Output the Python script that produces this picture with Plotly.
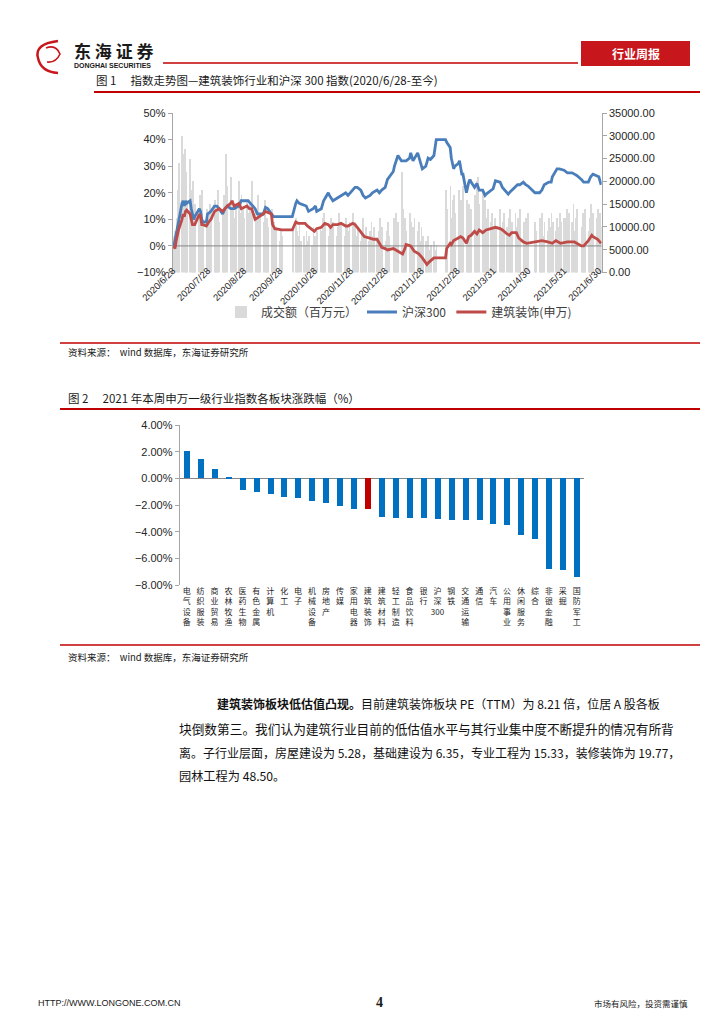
import plotly.graph_objects as go
import pandas as pd

W, H = 724, 1024


def px(x):
    return x / W


def py(y):
    return 1 - y / H


# ---------------- Chart 1 data ----------------
hs300_dates = [
    "2020-06-29", "2020-06-30", "2020-07-01", "2020-07-03", "2020-07-06", "2020-07-07", "2020-07-08",
    "2020-07-09", "2020-07-10", "2020-07-13", "2020-07-14", "2020-07-16", "2020-07-17", "2020-07-20",
    "2020-07-21", "2020-07-22", "2020-07-23", "2020-07-24", "2020-07-27", "2020-07-28", "2020-07-31",
    "2020-08-03", "2020-08-05", "2020-08-07", "2020-08-10", "2020-08-12", "2020-08-14", "2020-08-17",
    "2020-08-20", "2020-08-24", "2020-08-26", "2020-08-28", "2020-09-01", "2020-09-03", "2020-09-07",
    "2020-09-09", "2020-09-11", "2020-09-14", "2020-09-16", "2020-09-18", "2020-09-21", "2020-09-23",
    "2020-09-25", "2020-09-30", "2020-10-09", "2020-10-12", "2020-10-13", "2020-10-15", "2020-10-19",
    "2020-10-21", "2020-10-23", "2020-10-27", "2020-10-29", "2020-10-30", "2020-11-03", "2020-11-05",
    "2020-11-09", "2020-11-10", "2020-11-13", "2020-11-17", "2020-11-20", "2020-11-24", "2020-11-26",
    "2020-11-30", "2020-12-02", "2020-12-04", "2020-12-07", "2020-12-09", "2020-12-11", "2020-12-15",
    "2020-12-17", "2020-12-21", "2020-12-23", "2020-12-25", "2020-12-28", "2020-12-30", "2021-01-04",
    "2021-01-05", "2021-01-07", "2021-01-08", "2021-01-11", "2021-01-13", "2021-01-15", "2021-01-18",
    "2021-01-19", "2021-01-21", "2021-01-25", "2021-01-27", "2021-01-29", "2021-02-01", "2021-02-03",
    "2021-02-05", "2021-02-08", "2021-02-10", "2021-02-18", "2021-02-19", "2021-02-22", "2021-02-23",
    "2021-02-25", "2021-02-26", "2021-03-01", "2021-03-02", "2021-03-04", "2021-03-05", "2021-03-08",
    "2021-03-10", "2021-03-11", "2021-03-12", "2021-03-15", "2021-03-17", "2021-03-19", "2021-03-22",
    "2021-03-24", "2021-03-25", "2021-03-29", "2021-03-31", "2021-04-02", "2021-04-06", "2021-04-08",
    "2021-04-12", "2021-04-13", "2021-04-15", "2021-04-19", "2021-04-21", "2021-04-23", "2021-04-26",
    "2021-04-28", "2021-04-30", "2021-05-06", "2021-05-10", "2021-05-12", "2021-05-14", "2021-05-18",
    "2021-05-20", "2021-05-21", "2021-05-25", "2021-05-27", "2021-05-31", "2021-06-03", "2021-06-07",
    "2021-06-09", "2021-06-11", "2021-06-15", "2021-06-17", "2021-06-21", "2021-06-23", "2021-06-25",
    "2021-06-28", "2021-06-30", "2021-07-02",
]
hs300_pct = [
    0, 2, 5, 9, 16, 17, 15,
    17, 16, 17, 14, 10, 11, 13,
    14, 13, 10, 9, 9, 12, 13,
    15, 15, 14, 12, 14, 15, 14,
    14, 15, 17, 17, 17, 16, 14,
    12, 12, 12, 14.5, 14, 12, 11,
    11, 11, 11, 16, 17, 16, 15.5,
    15, 13, 14, 15, 13, 14, 17,
    20, 19, 17, 18, 19, 20, 19,
    21, 22, 22, 21, 19, 18, 19,
    20, 21, 20, 21, 22, 25, 28,
    30, 33, 34, 32, 32, 32, 33,
    35, 32, 35, 32, 29, 30, 33,
    32.5, 34, 40, 40, 39, 37, 33,
    29, 30, 31, 32, 27, 27, 20,
    24, 25, 24, 22, 23.5, 21, 21,
    19, 19.5, 21, 21.5, 24.5, 24, 22,
    20, 19.5, 20.5, 22, 23, 23, 24,
    23, 22.5, 20, 20, 21, 23, 24,
    24, 26, 29, 29, 28.5, 27.5, 27.5,
    27, 26.5, 25, 24, 24, 26, 27,
    26.5, 26, 23,
]

jz_dates = [
    "2020-06-29", "2020-06-30", "2020-07-01", "2020-07-02", "2020-07-03", "2020-07-06", "2020-07-07",
    "2020-07-08", "2020-07-09", "2020-07-10", "2020-07-13", "2020-07-14", "2020-07-15", "2020-07-17",
    "2020-07-20", "2020-07-21", "2020-07-22", "2020-07-23", "2020-07-24", "2020-07-27", "2020-07-29",
    "2020-07-31", "2020-08-03", "2020-08-05", "2020-08-07", "2020-08-10", "2020-08-12", "2020-08-14",
    "2020-08-17", "2020-08-18", "2020-08-20", "2020-08-24", "2020-08-26", "2020-08-28", "2020-08-31",
    "2020-09-02", "2020-09-04", "2020-09-07", "2020-09-09", "2020-09-11", "2020-09-14", "2020-09-16",
    "2020-09-18", "2020-09-21", "2020-09-22", "2020-09-24", "2020-09-30", "2020-10-09", "2020-10-12",
    "2020-10-14", "2020-10-16", "2020-10-20", "2020-10-22", "2020-10-26", "2020-10-28", "2020-10-30",
    "2020-11-03", "2020-11-06", "2020-11-09", "2020-11-11", "2020-11-13", "2020-11-17", "2020-11-20",
    "2020-11-24", "2020-11-26", "2020-11-30", "2020-12-02", "2020-12-04", "2020-12-07", "2020-12-10",
    "2020-12-14", "2020-12-18", "2020-12-21", "2020-12-23", "2020-12-25", "2020-12-28", "2020-12-30",
    "2021-01-04", "2021-01-06", "2021-01-08", "2021-01-12", "2021-01-14", "2021-01-15", "2021-01-19",
    "2021-01-22", "2021-01-26", "2021-01-28", "2021-01-29", "2021-02-02", "2021-02-04", "2021-02-08",
    "2021-02-18", "2021-02-19", "2021-02-22", "2021-02-23", "2021-02-25", "2021-03-01", "2021-03-03",
    "2021-03-05", "2021-03-08", "2021-03-10", "2021-03-12", "2021-03-15", "2021-03-17", "2021-03-19",
    "2021-03-22", "2021-03-25", "2021-03-29", "2021-03-31", "2021-04-02", "2021-04-06", "2021-04-08",
    "2021-04-12", "2021-04-14", "2021-04-16", "2021-04-20", "2021-04-22", "2021-04-26", "2021-04-29",
    "2021-05-07", "2021-05-12", "2021-05-17", "2021-05-21", "2021-05-24", "2021-05-28", "2021-06-03",
    "2021-06-09", "2021-06-15", "2021-06-17", "2021-06-18", "2021-06-21", "2021-06-24", "2021-06-25",
    "2021-06-29", "2021-07-02",
]
jz_pct = [
    0, -1, 2, 4, 6, 10, 12,
    11, 13, 13.5, 12, 10, 8, 8,
    11, 12, 11, 8, 8, 7.5, 9,
    10, 13, 13.5, 14, 13, 14, 15,
    16, 17, 15, 16, 14, 14.5, 15,
    14, 14, 10, 10.5, 11, 12, 13,
    12.5, 12, 8, 6.5, 6, 6, 9,
    8.5, 8.5, 8.5, 7.5, 6, 5.5, 6.5,
    7, 8.5, 8, 7, 8, 8, 8.5,
    7.5, 7.5, 8.5, 8, 7, 5, 3.5,
    3, 2.5, 2.5, 1, -0.5, -1, -1.5,
    -1, -1.5, -2, -3, -1, 0.5, 0,
    -2, -3, -4, -4.5, -7, -6, -4.5,
    -4.5, -1, 1, 0.5, 2, 3, 3.5,
    3, 1, 3.5, 4, 5.5, 4.5, 6,
    5, 6, 6.5, 7, 7, 6.5, 6,
    4.5, 4, 5, 5, 3, 1.5, 1,
    1.5, 2, 1.5, 1, 2, 1, 1.5,
    1.5, 0, 0, 0.5, 2, 4, 3.5,
    2.5, 1,
]

vol_start, vol_end = "2020-06-29", "2021-07-02"
market_holidays = [
    "2020-10-01", "2020-10-02", "2020-10-05", "2020-10-06", "2020-10-07", "2020-10-08",
    "2021-01-01", "2021-02-11", "2021-02-12", "2021-02-15", "2021-02-16", "2021-02-17",
    "2021-04-05", "2021-05-03", "2021-05-04", "2021-05-05", "2021-06-14",
]
volume = [
    # 2020-06
    8000, 9000,
    # 2020-07
    12000, 18000, 24000, 30000, 26000, 27000, 22000, 16000, 25000, 18000, 20000, 14000,
    15000, 12000, 17000, 13000, 18000, 11000, 14000, 10000, 12000, 15000, 13000,
    # 2020-08
    16000, 12000, 14000, 18000, 11000, 13000, 17000, 15000, 26000, 19000, 21000,
    14000, 16000, 12000, 15000, 20000, 13000, 17000, 14000, 12000, 16000,
    # 2020-09
    13000, 15000, 11000, 20000, 14000, 12000, 17000, 10000, 13000, 11000, 16000,
    9000, 12000, 10000, 14000, 9000, 11000, 8000, 10000, 7000, 9000, 8000,
    # 2020-10
    10000, 12000, 9000, 8000, 11000, 7000, 8000, 6000, 9000, 7000, 8000, 6000,
    10000, 8000, 7000, 9000,
    # 2020-11
    10000, 9000, 12000, 13000, 11000, 8000, 10000, 12000, 9000, 11000, 8000,
    10000, 13000, 9000, 11000, 8000, 12000, 10000, 9000, 11000, 13000,
    # 2020-12
    9000, 11000, 8000, 10000, 7000, 9000, 12000, 8000, 10000, 7000, 9000, 11000,
    8000, 10000, 7000, 9000, 12000, 8000, 10000, 7000, 9000, 11000, 8000,
    # 2021-01
    12000, 10000, 13000, 9000, 11000, 22000, 14000, 10000, 12000, 9000,
    13000, 11000, 8000, 10000, 12000, 9000, 11000, 7000, 10000, 8000,
    # 2021-02
    7000, 6000, 8000, 5000, 6000, 7000, 5000, 6000, 18000, 14000, 19000, 12000,
    16000, 17000, 13000,
    # 2021-03
    18000, 14000, 16000, 12000, 19000, 16000, 13000, 15000, 11000, 14000, 17000, 12000,
    20000, 21000, 15000, 18000, 13000, 16000, 12000, 14000, 11000, 13000, 10000,
    # 2021-04
    12000, 10000, 14000, 9000, 11000, 13000, 10000, 12000, 14000, 9000, 11000,
    13000, 10000, 12000, 8000, 14000, 11000, 9000, 12000, 10000, 13000,
    # 2021-05
    11000, 9000, 12000, 10000, 13000, 8000, 11000, 9000, 12000, 10000, 13000,
    11000, 9000, 12000, 10000, 13000, 11000, 12000,
    # 2021-06
    12000, 14000, 10000, 13000, 11000, 15000, 9000, 12000, 14000, 10000, 13000,
    11000, 14000, 9000, 12000, 15000, 10000, 13000, 12000, 14000, 11000,
    # 2021-07
    13000, 10000,
]
trade_days = [d.strftime("%Y-%m-%d") for d in pd.bdate_range(vol_start, vol_end)
              if d.strftime("%Y-%m-%d") not in market_holidays]
n_vol = min(len(trade_days), len(volume))
trade_days, volume = trade_days[:n_vol], volume[:n_vol]

c1_tickvals = ["2020-06-28", "2020-07-28", "2020-08-28", "2020-09-28", "2020-10-28", "2020-11-28",
               "2020-12-28", "2021-01-28", "2021-02-28", "2021-03-31", "2021-04-30", "2021-05-31",
               "2021-06-30"]
c1_ticktext = ["2020/6/28", "2020/7/28", "2020/8/28", "2020/9/28", "2020/10/28", "2020/11/28",
               "2020/12/28", "2021/1/28", "2021/2/28", "2021/3/31", "2021/4/30", "2021/5/31",
               "2021/6/30"]
c1_xrange = ["2020-06-28", "2021-07-02 12:00"]

# ---------------- Chart 2 data ----------------
industries = ["电气设备", "纺织服装", "商业贸易", "农林牧渔", "医药生物", "有色金属", "计算机", "化工",
              "电子", "机械设备", "房地产", "传媒", "家用电器", "建筑装饰", "建筑材料", "轻工制造",
              "食品饮料", "银行", "沪深300", "钢铁", "交通运输", "通信", "汽车", "公用事业",
              "休闲服务", "综合", "非银金融", "采掘", "国防军工"]
changes = [2.08, 1.45, 0.72, 0.08, -0.85, -1.02, -1.18, -1.43, -1.50, -1.70, -1.85, -2.05,
           -2.27, -2.33, -2.93, -2.94, -2.95, -3.01, -3.06, -3.12, -3.13, -3.14, -3.46, -3.53,
           -4.28, -4.57, -6.80, -6.86, -7.40]
highlight = "建筑装饰"


def stack(label):
    parts, buf = [], ""
    for ch in label:
        if ch.isdigit():
            buf += ch
        else:
            if buf:
                parts.append(buf)
                buf = ""
            parts.append(ch)
    if buf:
        parts.append(buf)
    return "<br>".join(parts)


RED = "#C00000"
AXIS_GRAY = "#A6A6A6"
TXT = "#262626"
NUMFONT = "Liberation Sans"
CJK = "Noto Sans CJK SC"

fig = go.Figure()

# Chart 1 traces
fig.add_trace(go.Bar(x=trade_days, y=volume, name="成交额（百万元）", marker=dict(color="#DADADA", line_width=0),
                     width=0.75 * 86400000, xaxis="x", yaxis="y"))
fig.add_trace(go.Scatter(x=c1_xrange, y=[0, 0], mode="lines", line=dict(color="#868686", width=1),
                         showlegend=False, hoverinfo="skip", xaxis="x", yaxis="y2"))
fig.add_trace(go.Scatter(x=hs300_dates, y=hs300_pct, mode="lines", name="沪深300",
                         line=dict(color="#4A7EBB", width=2.8), xaxis="x", yaxis="y2"))
fig.add_trace(go.Scatter(x=jz_dates, y=jz_pct, mode="lines", name="建筑装饰(申万)",
                         line=dict(color="#BE4B48", width=2.8), xaxis="x", yaxis="y2"))

# Chart 2 trace
fig.add_trace(go.Bar(x=industries, y=changes, showlegend=False, width=0.43,
                     marker=dict(color=[RED if n == highlight else "#0070C0" for n in industries], line_width=0),
                     xaxis="x2", yaxis="y3"))

axis_common = dict(showgrid=False, linecolor=AXIS_GRAY, tickcolor=AXIS_GRAY, ticks="outside", ticklen=4,
                   automargin=False, tickfont=dict(family=NUMFONT, size=11, color=TXT))

fig.update_layout(
    template="none",
    width=W, height=H, autosize=False,
    margin=dict(l=0, r=0, t=0, b=0, pad=0, autoexpand=False),
    paper_bgcolor="white", plot_bgcolor="rgba(0,0,0,0)",
    font=dict(family=NUMFONT, color=TXT),
    bargap=0,
    xaxis=dict(domain=[px(172.7), px(601.7)], anchor="y", type="date", range=c1_xrange,
               tickmode="array", tickvals=c1_tickvals, ticktext=c1_ticktext, tickangle=-45,
               ticklabelstandoff=-10,
               showgrid=False, showline=False, zeroline=False, ticks="", automargin=False,
               tickfont=dict(family=NUMFONT, size=9.5, color=TXT)),
    yaxis=dict(domain=[py(272.5), py(113)], anchor="x", side="right", range=[0, 35000], dtick=5000,
               tickformat=".2f", showline=True, zeroline=False, **axis_common),
    yaxis2=dict(overlaying="y", anchor="x", side="left", range=[-10, 50], dtick=10, ticksuffix="%",
                showline=True, zeroline=False, **axis_common),
    xaxis2=dict(domain=[px(179.7), px(583.7)], anchor="y3", type="category", range=[-0.5, len(industries) - 0.5],
                tickmode="array", tickvals=industries, ticktext=[stack(n) for n in industries], tickangle=0,
                showgrid=False, showline=False, zeroline=False, ticks="", automargin=False,
                tickfont=dict(family=CJK, size=8, color=TXT)),
    yaxis3=dict(domain=[py(585), py(425)], anchor="x2", range=[-8, 4], dtick=2, tickformat=".2f",
                ticksuffix="%", showline=True, zeroline=True, zerolinecolor="#868686", zerolinewidth=1,
                **axis_common),
    legend=dict(orientation="h", x=px(399), xanchor="center", y=py(312), yanchor="middle",
                font=dict(family=CJK, size=12, color="#404040"), bgcolor="rgba(0,0,0,0)",
                itemwidth=30, traceorder="normal"),
)

shapes = []
annots = []


def hline(x0, x1, y, color=RED, w=1.5):
    shapes.append(dict(type="line", xref="paper", yref="paper", x0=px(x0), x1=px(x1), y0=py(y), y1=py(y),
                       line=dict(color=color, width=w)))


def text(x, y, s, size=11, color=TXT, family=CJK, xanchor="left", yanchor="middle"):
    annots.append(dict(xref="paper", yref="paper", x=px(x), y=py(y), text=s, showarrow=False,
                       xanchor=xanchor, yanchor=yanchor, font=dict(family=family, size=size, color=color)))


# header
hline(163, 578, 63, w=1.3)
shapes.append(dict(type="rect", xref="paper", yref="paper", x0=px(581), x1=px(690), y0=py(66), y1=py(41),
                   fillcolor="#C8161D", line=dict(width=0)))
text(635.5, 53.5, "<b>行业周报</b>", size=12, color="white", xanchor="center")

# logo swirl (decorative)
logo_path = "M {a},{b} Q {c},{d} {e},{f} Q {g},{h} {i},{j}".format(
    a=px(58), b=py(41), c=px(34), d=py(44), e=px(38), f=py(58), g=px(41), h=py(72), i=px(58), j=py(73))
shapes.append(dict(type="path", xref="paper", yref="paper", path=logo_path, line=dict(color="#C8161D", width=2.5)))
logo_path2 = "M {a},{b} Q {c},{d} {e},{f} Q {g},{h} {i},{j}".format(
    a=px(46), b=py(48), c=px(56), d=py(44), e=px(60), f=py(54), g=px(56), h=py(63), i=px(47), j=py(62))
shapes.append(dict(type="path", xref="paper", yref="paper", path=logo_path2, line=dict(color="#C8161D", width=1.6)))
text(72, 50, "<b>东 海 证 券</b>", size=17, color="#1a1a1a", family=CJK)
text(72, 65, "<b>DONGHAI SECURITIES</b>", size=7, color="#1a1a1a", family=NUMFONT)

# figure 1 caption and rules
text(94, 80, "图 1　 指数走势图—建筑装饰行业和沪深 300 指数(2020/6/28-至今)", size=11.5, color="#1a1a1a")
hline(94, 700, 92, w=2)
hline(60, 700, 343, w=1.5)
text(66, 352, "资料来源：  wind 数据库，东海证券研究所", size=9.5, color="#1a1a1a")

# figure 2 caption and rules
text(66, 398, "图 2　 2021 年本周申万一级行业指数各板块涨跌幅（%）", size=11.5, color="#1a1a1a")
hline(60, 700, 409, w=2)
hline(60, 700, 645, w=1.5)
text(66, 657, "资料来源：  wind 数据库，东海证券研究所", size=9.5, color="#1a1a1a")

# paragraph (sizes tuned per line to mimic the justified text block)
para = [
    (215, 703, 12.0, "<b>建筑装饰板块低估值凸现。</b>目前建筑装饰板块 PE（TTM）为 8.21 倍，位居 A 股各板"),
    (177, 728, 12.7, "块倒数第三。我们认为建筑行业目前的低估值水平与其行业集中度不断提升的情况有所背"),
    (177, 752, 12.0, "离。子行业层面，房屋建设为 5.28，基础建设为 6.35，专业工程为 15.33，装修装饰为 19.77，"),
    (177, 776, 12.2, "园林工程为 48.50。"),
]
for x, y, sz, s in para:
    text(x, y, s, size=sz, color="#111111")

# footer
text(36, 1003, "HTTP://WWW.LONGONE.COM.CN", size=9, color="#1a1a1a", family=NUMFONT)
text(379, 1002, "<b>4</b>", size=14, color="#1a1a1a", family="Liberation Serif", xanchor="center")
text(690, 1003, "市场有风险，投资需谨慎", size=8.5, color="#1a1a1a", xanchor="right")

fig.update_layout(shapes=shapes, annotations=annots)

fig.write_html("out.html", config={"displayModeBar": False},
               post_script="document.body.style.margin='0';")
